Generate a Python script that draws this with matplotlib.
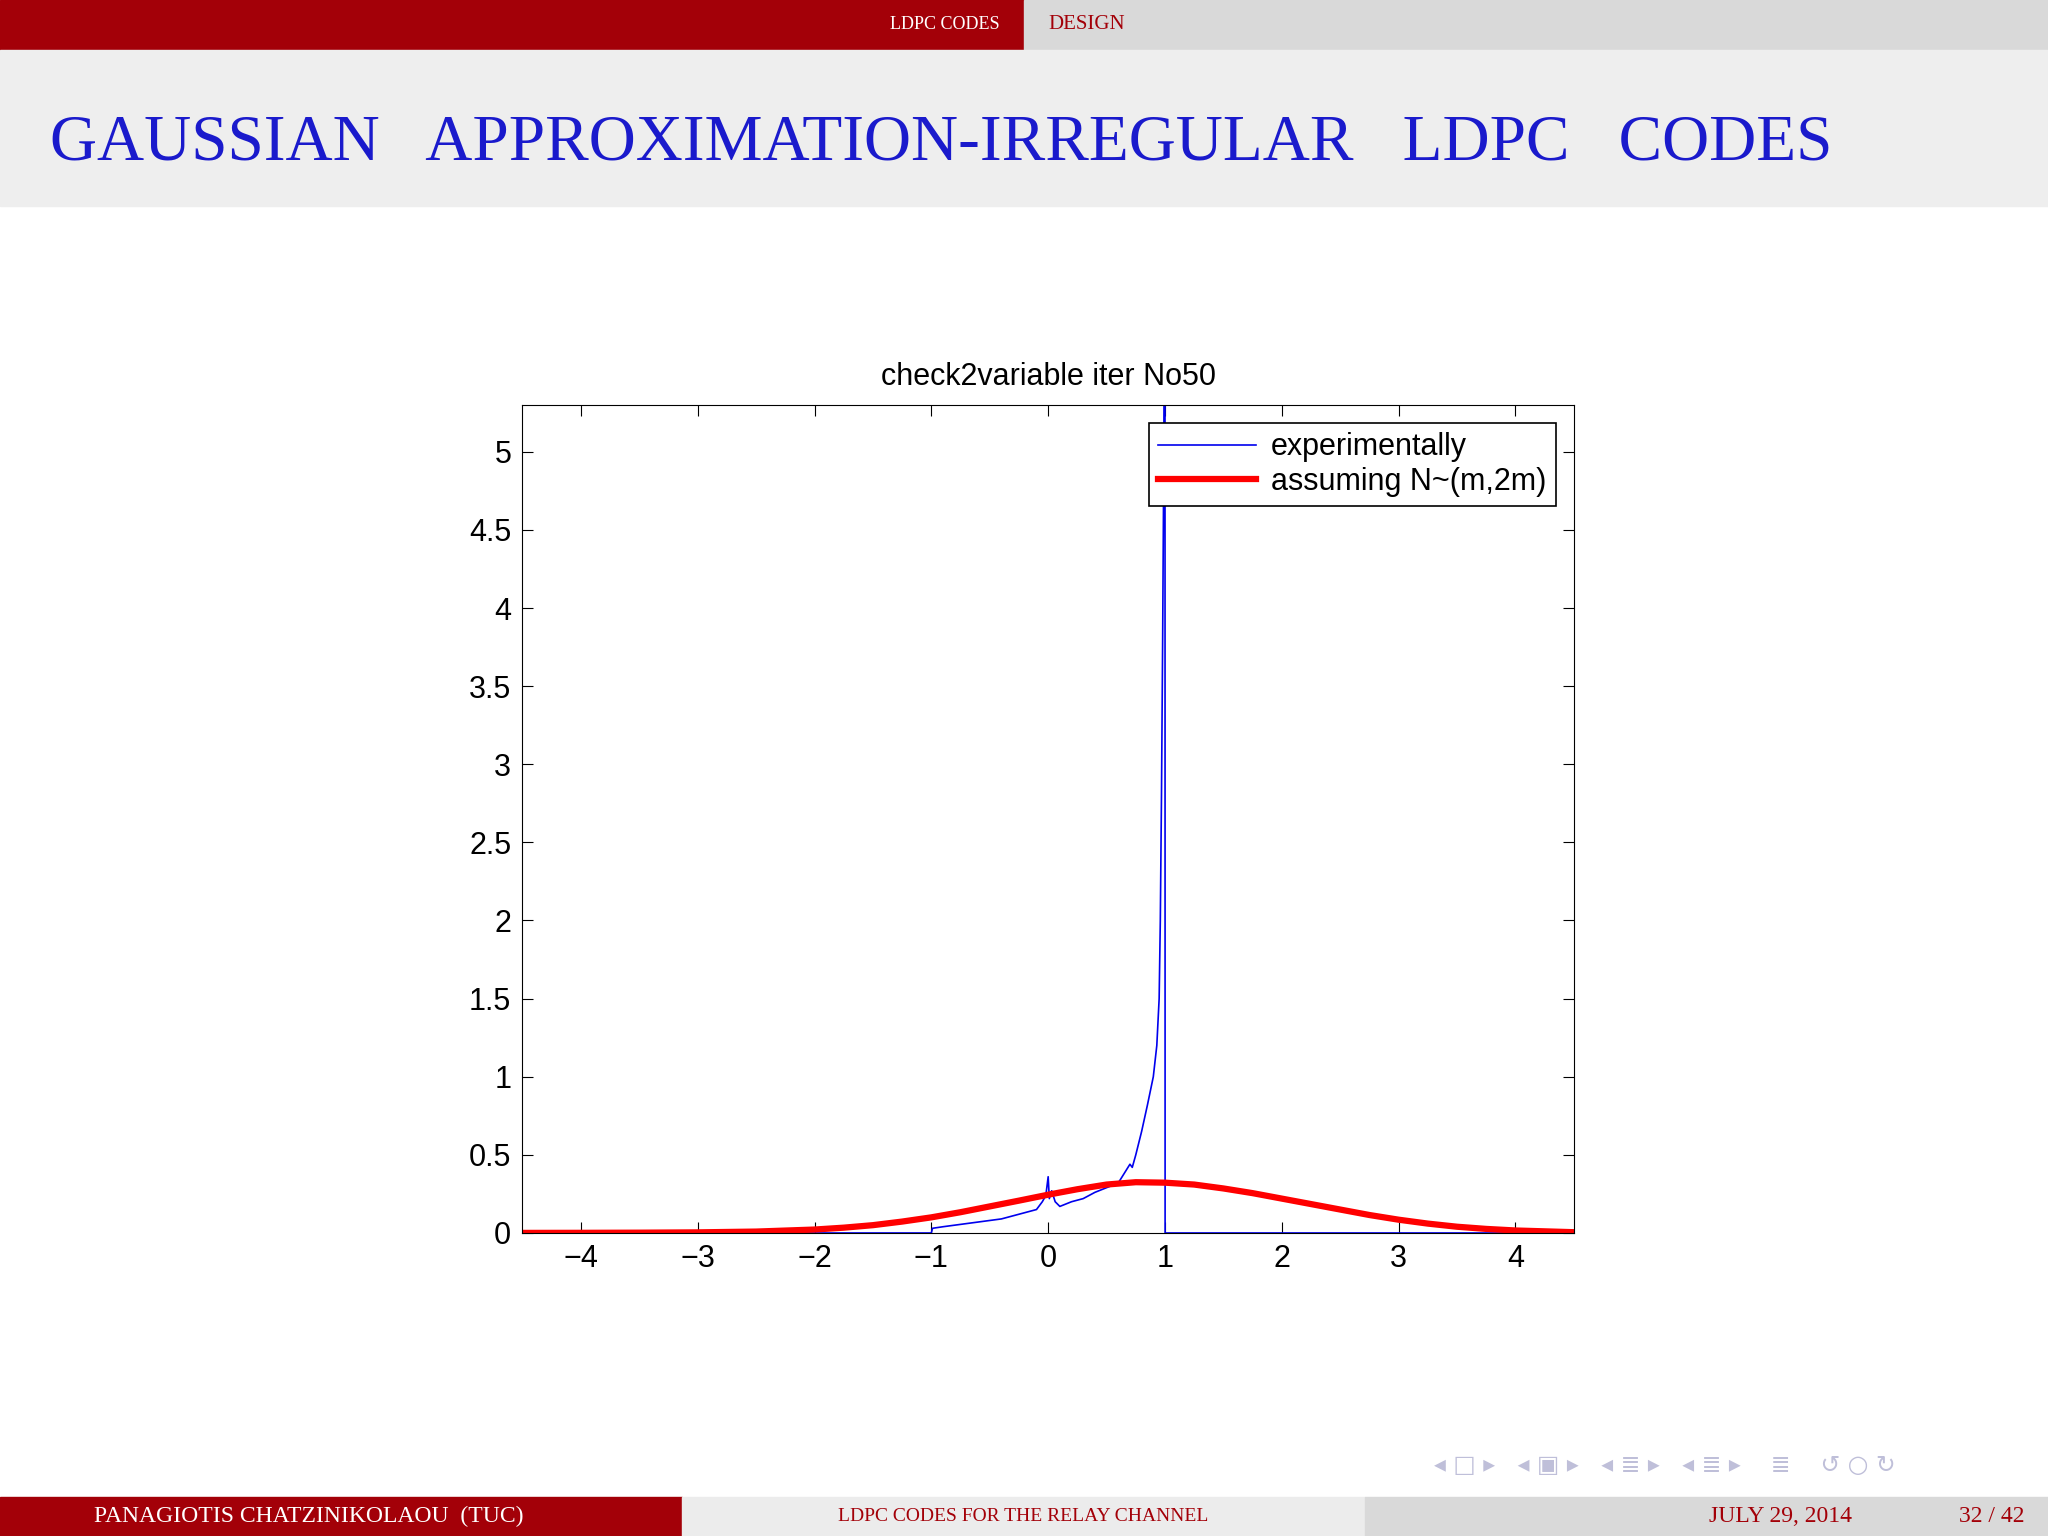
import matplotlib.pyplot as plt
from matplotlib.patches import Rectangle

# red curve: Gaussian fit N(m,2m)
red_x = [-4.5, -4.0, -3.5, -3.0, -2.5, -2.0, -1.75, -1.5, -1.25, -1.0, -0.75, -0.5, -0.25,
         0.0, 0.25, 0.5, 0.75, 1.0, 1.25, 1.5, 1.75, 2.0, 2.25, 2.5, 2.75, 3.0, 3.25,
         3.5, 3.75, 4.0, 4.5]
red_y = [0.0005, 0.001, 0.002, 0.004, 0.009, 0.022, 0.034, 0.05, 0.073, 0.10, 0.133, 0.17, 0.207,
         0.245, 0.28, 0.31, 0.325, 0.322, 0.31, 0.285, 0.255, 0.22, 0.185, 0.15, 0.115, 0.085, 0.06,
         0.04, 0.026, 0.016, 0.005]

# blue curve: experimental histogram
blue_x = [-4.5, -1.0, -0.99, -0.9, -0.8, -0.7, -0.6, -0.5, -0.4, -0.3, -0.2, -0.1, -0.05,
          -0.02, 0.0, 0.01, 0.03, 0.06, 0.1, 0.2, 0.3, 0.4, 0.5, 0.6, 0.65, 0.7, 0.72,
          0.75, 0.8, 0.85, 0.9, 0.93, 0.95, 0.96, 0.97, 0.98, 0.99, 0.995, 1.0, 1.001, 1.01, 4.5]
blue_y = [0.0, 0.0, 0.03, 0.04, 0.05, 0.06, 0.07, 0.08, 0.09, 0.11, 0.13, 0.15, 0.2,
          0.24, 0.36, 0.22, 0.27, 0.2, 0.17, 0.2, 0.22, 0.26, 0.29, 0.32, 0.38, 0.44, 0.42,
          0.5, 0.65, 0.82, 1.0, 1.2, 1.5, 2.0, 2.8, 3.8, 5.0, 6.0, 6.5, 0.0, 0.0, 0.0]

W, H = 1568, 1176
fig = plt.figure(figsize=(20.48, 15.36), dpi=100)
bg = fig.add_axes([0, 0, 1, 1])
bg.set_xlim(0, W)
bg.set_ylim(H, 0)
bg.axis('off')

dark_red = '#a30008'
serif = 'Liberation Serif'
# header
bg.add_patch(Rectangle((0, 0), 784, 38, color=dark_red))
bg.add_patch(Rectangle((784, 0), W - 784, 38, color='#d9d9d9'))
bg.text(765, 19, 'LDPC CODES', color='white', ha='right', va='center', family=serif, fontsize=13)
bg.text(803, 19, 'DESIGN', color=dark_red, ha='left', va='center', family=serif, fontsize=15)
bg.add_patch(Rectangle((0, 38), W, 120, color='#eeeeee'))
bg.text(38, 110, 'GAUSSIAN   APPROXIMATION-IRREGULAR   LDPC   CODES', color='#1a1acc',
        ha='left', va='center', family=serif, fontsize=47)
# footer
bg.add_patch(Rectangle((0, 1146), 522, 30, color=dark_red))
bg.add_patch(Rectangle((522, 1146), 523, 30, color='#ececec'))
bg.add_patch(Rectangle((1045, 1146), W - 1045, 30, color='#d9d9d9'))
bg.text(72, 1161, 'PANAGIOTIS CHATZINIKOLAOU  (TUC)', color='white', va='center',
        family=serif, fontsize=17)
bg.text(783, 1161, 'LDPC CODES FOR THE RELAY CHANNEL', color=dark_red, ha='center', va='center',
        family=serif, fontsize=14)
bg.text(1418, 1161, 'JULY 29, 2014', color=dark_red, ha='right', va='center',
        family=serif, fontsize=17)
bg.text(1550, 1161, '32 / 42', color=dark_red, ha='right', va='center',
        family=serif, fontsize=17)
bg.text(1275, 1122, '◂ □ ▸   ◂ ▣ ▸   ◂ ≣ ▸   ◂ ≣ ▸    ≣    ↺ ○ ↻', color='#bfbfd9', ha='center',
        va='center', fontsize=17)

sans = 'Liberation Sans'
ax = fig.add_axes([400 / W, 1 - 944 / H, 805 / W, 634 / H])
ax.plot(blue_x, blue_y, color='#0000ee', lw=1.2, label='experimentally')
ax.plot(red_x, red_y, color='#ff0000', lw=4.5, label='assuming N~(m,2m)')
ax.set_xlim(-4.5, 4.5)
ax.set_ylim(0, 5.3)
ax.set_xticks([-4, -3, -2, -1, 0, 1, 2, 3, 4])
ax.set_xticklabels(['\u22124', '\u22123', '\u22122', '\u22121', '0', '1', '2', '3', '4'], family=sans)
ax.set_yticks([0, 0.5, 1, 1.5, 2, 2.5, 3, 3.5, 4, 4.5, 5])
ax.set_yticklabels(['0', '0.5', '1', '1.5', '2', '2.5', '3', '3.5', '4', '4.5', '5'], family=sans)
ax.tick_params(direction='in', top=True, right=True, labelsize=22, length=8, pad=8)
ax.set_title('check2variable iter No50', fontsize=22, pad=14, family=sans)
leg = ax.legend(loc='upper right', prop={'family': sans, 'size': 22}, fancybox=False,
                edgecolor='black', framealpha=1, handlelength=3.2, handletextpad=0.5,
                borderaxespad=0.6, borderpad=0.3, labelspacing=0.15)
leg.get_frame().set_linewidth(1.2)

fig.savefig('out.png', dpi=100)
